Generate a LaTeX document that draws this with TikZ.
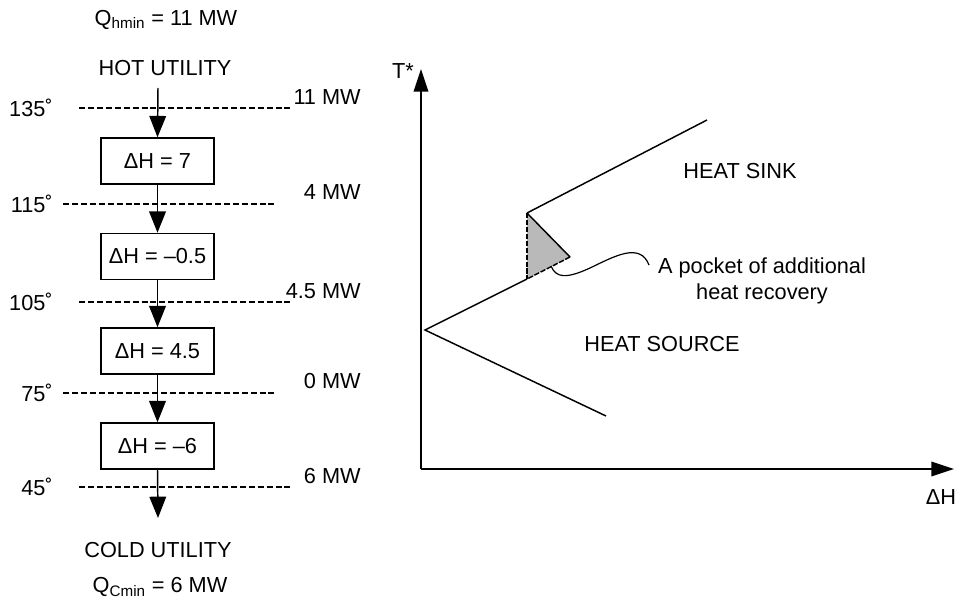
\documentclass[tikz,border=0pt]{standalone}
\usepackage{fontspec}
\setmainfont{Liberation Sans}
\usetikzlibrary{arrows.meta}
\begin{document}
\begin{tikzpicture}[x=0.75pt,y=-0.75pt,
  lbl/.style={font=\fontsize{16.3}{19}\selectfont, inner sep=0pt},
  hbox/.style={draw, line width=1.1pt, minimum width=84.5pt, minimum height=34.5pt, inner sep=0pt, font=\fontsize{16.3}{19}\selectfont},
  flow/.style={line width=1.1pt, -{Triangle[length=16pt,width=12.5pt]}},
  axis/.style={line width=1.1pt, -{Triangle[length=17pt,width=11pt]}},
  tline/.style={line width=1.1pt, dash pattern=on 4.5pt off 2.2pt},
  curve/.style={line width=1.1pt}]
\useasboundingbox (0,0) rectangle (955,603);

% left: temperature interval cascade
\node[lbl] (qh) at (166,20) {Q\textsubscript{hmin} = 11 MW};
\node[lbl] (hot) at (165,68) {HOT UTILITY};
\coordinate (hotin) at (158,88);
\node[hbox] (b1) at (157.5,161) {ΔH = 7};
\node[hbox] (b2) at (157.5,256.5) {ΔH = –0.5};
\node[hbox] (b3) at (157.5,351) {ΔH = 4.5};
\node[hbox] (b4) at (157.5,446) {ΔH = –6};
\coordinate (coldin) at (158,518);
\node[lbl] (cold) at (158,550) {COLD UTILITY};
\node[lbl] (qc) at (160,587) {Q\textsubscript{Cmin} = 6 MW};

\draw[tline] (79,108) -- (291,108);
\draw[tline] (63,204) -- (276,204);
\draw[tline] (79,302) -- (293,302);
\draw[tline] (63,393) -- (276,393);
\draw[tline] (79,487) -- (293,487);

\node[lbl, anchor=east] (t1) at (53,108) {135˚};
\node[lbl, anchor=east] (t2) at (53,204) {115˚};
\node[lbl, anchor=east] (t3) at (53,302) {105˚};
\node[lbl, anchor=east] (t4) at (53,393) {75˚};
\node[lbl, anchor=east] (t5) at (53,487) {45˚};

\node[lbl, anchor=east] (m1) at (361,97) {11 MW};
\node[lbl, anchor=east] (m2) at (361,192) {4 MW};
\node[lbl, anchor=east] (m3) at (361,291) {4.5 MW};
\node[lbl, anchor=east] (m4) at (361,381) {0 MW};
\node[lbl, anchor=east] (m5) at (361,476) {6 MW};

\draw[flow] (hotin) -- (b1.north);
\draw[flow] (b1.south) -- (b2.north);
\draw[flow] (b2.south) -- (b3.north);
\draw[flow] (b3.south) -- (b4.north);
\draw[flow] (b4.south) -- (coldin);

% right: T*-H diagram
\coordinate (O) at (421,469);
\coordinate (Ty) at (421,69);
\coordinate (Hx) at (954,469);
\draw[axis] (O) -- (Ty);
\draw[axis] (O) -- (Hx);
\node[lbl] (tlab) at (403,71) {T*};
\node[lbl] (hlab) at (941,497) {ΔH};

\coordinate (V) at (425,330);
\coordinate (S1) at (606,416);
\coordinate (K1) at (527,279);
\coordinate (K2) at (527,213);
\coordinate (K3) at (707,120);
\coordinate (P) at (570,257);

\fill[gray!55] (K2) -- (P) -- (K1) -- cycle;
\draw[curve] (K2) -- (P);
\draw[line width=1.1pt, dash pattern=on 4pt off 1.2pt] (K2) -- (K1);
\draw[line width=1.1pt, dash pattern=on 4pt off 1.2pt] (P) -- (K1);
\draw[curve] (S1) -- (V) -- (K1);
\draw[curve] (K2) -- (K3);

\node[lbl] (sink) at (740,171) {HEAT SINK};
\node[lbl] (source) at (662,344) {HEAT SOURCE};
\node[lbl, align=center] (pocket) at (762,281) {A pocket of additional\\heat recovery};

\draw[line width=0.9pt] (551,266) .. controls (556,278) and (566,279) .. (590,268)
  .. controls (615,256) and (640,242) .. (649,265);
\end{tikzpicture}
\end{document}
